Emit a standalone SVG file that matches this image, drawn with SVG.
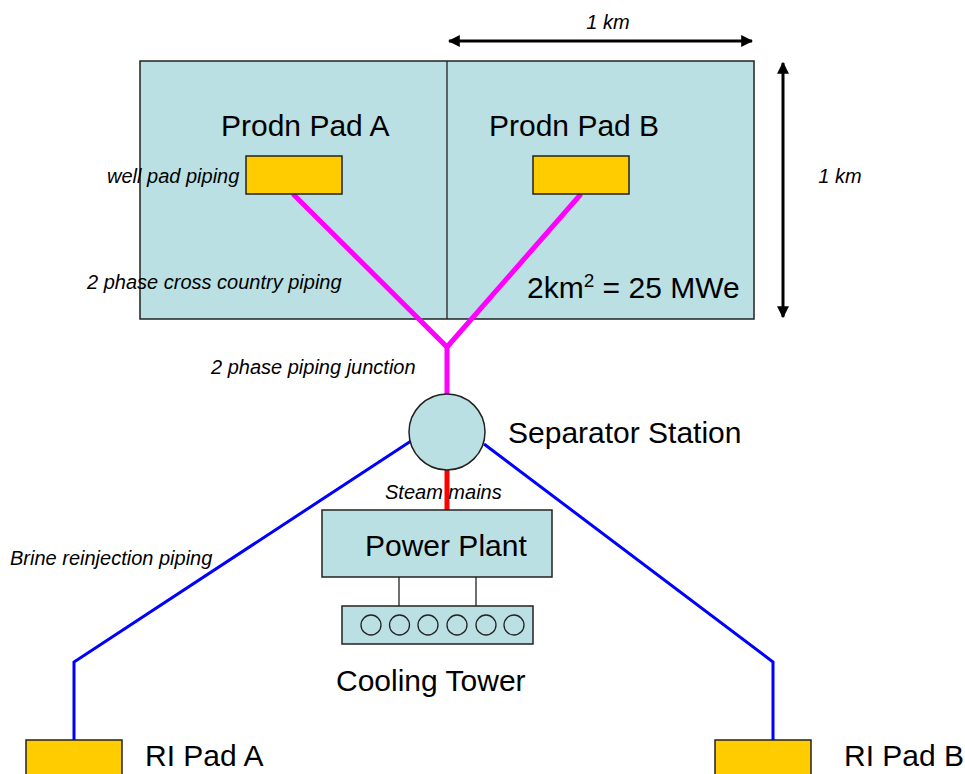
<svg xmlns="http://www.w3.org/2000/svg" width="965" height="774" viewBox="0 0 965 774">
  <defs>
    <marker id="arr" viewBox="0 0 10 10" refX="9" refY="5" markerWidth="4" markerHeight="4" orient="auto-start-reverse">
      <path d="M0,0 L10,5 L0,10 z" fill="#000"/>
    </marker>
  </defs>
  <style>
    .area { fill: #BBE0E3; stroke: #222; stroke-width: 1.5; }
    .pad { fill: #FFCC00; stroke: #222; stroke-width: 1.5; }
    .fan { fill: none; stroke: #222; stroke-width: 1.3; }
    .thin { stroke: #222; stroke-width: 1.3; fill: none; }
    .big { font-family: "Liberation Sans", Arial, sans-serif; font-size: 30px; fill: #000; }
    .note { font-family: "Liberation Sans", Arial, sans-serif; font-size: 20px; font-style: italic; fill: #000; }
    .twophase { stroke: #FF00FF; stroke-width: 5; fill: none; }
    .brine { stroke: #0000FF; stroke-width: 3; fill: none; }
    .steam { stroke: #FF0000; stroke-width: 5; stroke-linecap: round; fill: none; }
    .dim { stroke: #000; stroke-width: 3; fill: none; }
  </style>

  <!-- production field -->
  <g id="field">
    <rect class="area" x="140" y="61" width="614" height="258"/>
    <line class="thin" x1="447" y1="61" x2="447" y2="319"/>
    <text class="big" x="527" y="298">2km<tspan font-size="19" dy="-11">2</tspan><tspan dy="11"> = 25 MWe</tspan></text>
  </g>

  <!-- piping -->
  <g id="connectors">
    <polyline class="twophase" points="293,194 447,347 581,194"/>
    <line class="twophase" x1="447" y1="346" x2="447" y2="395"/>
    <line class="steam" x1="447" y1="471" x2="447" y2="510"/>
    <polyline class="brine" points="411,441 74,662 74,740"/>
    <polyline class="brine" points="484,444 773,662 773,740"/>
    <line class="thin" x1="399" y1="577" x2="399" y2="606"/>
    <line class="thin" x1="476" y1="577" x2="476" y2="606"/>
  </g>

  <g id="prodn-pad-a">
    <text class="big" x="221" y="136">Prodn Pad A</text>
    <rect class="pad" x="246" y="156" width="96" height="38"/>
  </g>

  <g id="prodn-pad-b">
    <text class="big" x="489" y="136">Prodn Pad B</text>
    <rect class="pad" x="533" y="156" width="96" height="38"/>
  </g>

  <g id="separator">
    <circle class="area" cx="447" cy="432" r="38"/>
    <text class="big" x="508" y="443" font-size="32">Separator Station</text>
  </g>

  <g id="power-plant">
    <rect class="area" x="322" y="510" width="230" height="67"/>
    <text class="big" x="365" y="556">Power Plant</text>
  </g>

  <g id="cooling-tower">
    <rect class="area" x="342" y="606" width="191" height="38"/>
    <circle class="fan" cx="371" cy="625" r="10"/>
    <circle class="fan" cx="399.5" cy="625" r="10"/>
    <circle class="fan" cx="428" cy="625" r="10"/>
    <circle class="fan" cx="457" cy="625" r="10"/>
    <circle class="fan" cx="486" cy="625" r="10"/>
    <circle class="fan" cx="514" cy="625" r="10"/>
    <text class="big" x="336" y="691">Cooling Tower</text>
  </g>

  <g id="ri-pad-a">
    <rect class="pad" x="26" y="740" width="96" height="40"/>
    <text class="big" x="145" y="766">RI Pad A</text>
  </g>

  <g id="ri-pad-b">
    <rect class="pad" x="715" y="740" width="96" height="40"/>
    <text class="big" x="844" y="766">RI Pad B</text>
  </g>

  <!-- dimensions -->
  <g id="dimensions">
    <line class="dim" x1="449" y1="41" x2="752" y2="41" marker-start="url(#arr)" marker-end="url(#arr)"/>
    <line class="dim" x1="783" y1="63" x2="783" y2="317" marker-start="url(#arr)" marker-end="url(#arr)"/>
    <text class="note" x="608" y="29" text-anchor="middle">1 km</text>
    <text class="note" x="840" y="183" text-anchor="middle">1 km</text>
  </g>

  <!-- pipe labels -->
  <g id="labels">
    <text class="note" x="107" y="183">well pad piping</text>
    <text class="note" x="87" y="289">2 phase cross country piping</text>
    <text class="note" x="211" y="374">2 phase piping junction</text>
    <text class="note" x="385" y="499">Steam mains</text>
    <text class="note" x="10" y="565">Brine reinjection piping</text>
  </g>
</svg>
